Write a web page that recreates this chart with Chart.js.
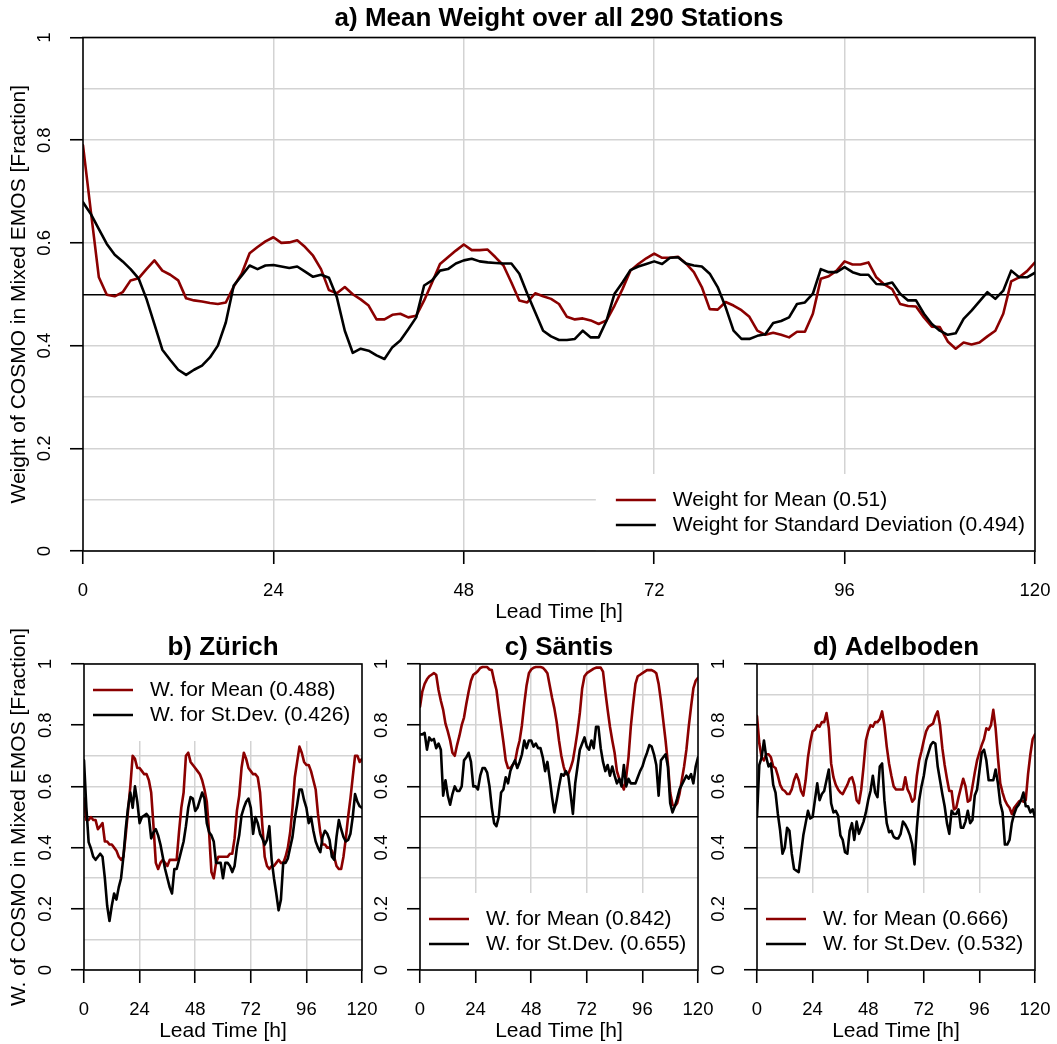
<!DOCTYPE html>
<html>
<head>
<meta charset="utf-8">
<title>Weight of COSMO in Mixed EMOS</title>
<script src="https://cdn.jsdelivr.net/npm/chart.js@4.4.1/dist/chart.umd.min.js"></script>
<style>
  html, body { margin: 0; padding: 0; background: #fff; overflow: hidden; }
  #page { position: relative; width: 1057px; height: 1044px; overflow: hidden; }
  #page canvas { position: absolute; }
</style>
</head>
<body>
<div id="page">
  <canvas id="chartA" width="1080" height="625" style="left:0;top:0"></canvas>
  <canvas id="chartB" width="400" height="444" style="left:0;top:600px"></canvas>
  <canvas id="chartC" width="400" height="444" style="left:340px;top:600px"></canvas>
  <canvas id="chartD" width="400" height="444" style="left:677px;top:600px"></canvas>
</div>
<script>
const FONT = '"Liberation Sans", Arial, Helvetica, sans-serif';
const RED = '#8b0000';
const GRID = '#d3d3d3';

// lead time in hours (x categories)
const leadTime = [
  0, 1, 2, 3, 4, 5, 6, 7, 8, 9, 10, 11, 12, 13, 14, 15, 16, 17, 18, 19,
  20, 21, 22, 23, 24, 25, 26, 27, 28, 29, 30, 31, 32, 33, 34, 35, 36, 37, 38, 39,
  40, 41, 42, 43, 44, 45, 46, 47, 48, 49, 50, 51, 52, 53, 54, 55, 56, 57, 58, 59,
  60, 61, 62, 63, 64, 65, 66, 67, 68, 69, 70, 71, 72, 73, 74, 75, 76, 77, 78, 79,
  80, 81, 82, 83, 84, 85, 86, 87, 88, 89, 90, 91, 92, 93, 94, 95, 96, 97, 98, 99,
  100, 101, 102, 103, 104, 105, 106, 107, 108, 109, 110, 111, 112, 113, 114, 115, 116, 117, 118, 119,
  120
];
const xTicks = [0, 24, 48, 72, 96, 120];
const yGrid = [0, 0.1, 0.2, 0.3, 0.4, 0.5, 0.6, 0.7, 0.8, 0.9, 1];
const yLabelled = [0, 0.2, 0.4, 0.6, 0.8, 1];
const yTickText = ['0', '0.2', '0.4', '0.6', '0.8', '1'];

// a) mean over all 290 stations
const meanAll = [
  0.79, 0.66, 0.533, 0.499, 0.496, 0.504, 0.527, 0.531, 0.549, 0.566,
  0.546, 0.538, 0.527, 0.492, 0.488, 0.486, 0.483, 0.481, 0.484, 0.515,
  0.54, 0.58, 0.592, 0.603, 0.611, 0.60, 0.601, 0.605, 0.592, 0.575,
  0.549, 0.508, 0.502, 0.514, 0.50, 0.49, 0.478, 0.451, 0.451, 0.46,
  0.462, 0.455, 0.458, 0.488, 0.523, 0.559, 0.572, 0.585, 0.597, 0.586,
  0.586, 0.587, 0.572, 0.556, 0.523, 0.488, 0.484, 0.502, 0.496, 0.491,
  0.481, 0.456, 0.451, 0.453, 0.449, 0.442, 0.449, 0.478, 0.51, 0.546,
  0.559, 0.570, 0.579, 0.571, 0.571, 0.573, 0.56, 0.543, 0.514, 0.471,
  0.47, 0.485, 0.478, 0.469, 0.456, 0.429, 0.421, 0.425, 0.421, 0.416,
  0.427, 0.427, 0.462, 0.53, 0.535, 0.546, 0.564, 0.558, 0.558, 0.562,
  0.533, 0.519, 0.51, 0.481, 0.477, 0.476, 0.455, 0.437, 0.436, 0.408,
  0.394, 0.406, 0.402, 0.406, 0.418, 0.429, 0.462, 0.525, 0.533, 0.545,
  0.562
];
const sdAll = [
  0.679, 0.656, 0.627, 0.598, 0.577, 0.564, 0.549, 0.531, 0.491, 0.442,
  0.392, 0.372, 0.353, 0.343, 0.353, 0.361, 0.377, 0.40, 0.445, 0.517,
  0.536, 0.556, 0.549, 0.556, 0.557, 0.554, 0.551, 0.554, 0.544, 0.534,
  0.538, 0.532, 0.494, 0.429, 0.386, 0.394, 0.39, 0.381, 0.374, 0.397,
  0.41, 0.432, 0.455, 0.517, 0.527, 0.546, 0.549, 0.56, 0.566, 0.569,
  0.564, 0.562, 0.561, 0.56, 0.56, 0.54, 0.501, 0.465, 0.429, 0.418,
  0.411, 0.411, 0.413, 0.429, 0.416, 0.416, 0.449, 0.501, 0.523, 0.547,
  0.554, 0.559, 0.564, 0.559, 0.571, 0.572, 0.56, 0.556, 0.554, 0.54,
  0.514, 0.475, 0.429, 0.413, 0.413, 0.419, 0.422, 0.444, 0.448, 0.455,
  0.481, 0.484, 0.501, 0.549, 0.543, 0.543, 0.553, 0.543, 0.538, 0.538,
  0.52, 0.519, 0.523, 0.501, 0.488, 0.488, 0.462, 0.442, 0.429, 0.421,
  0.424, 0.452, 0.468, 0.486, 0.504, 0.491, 0.507, 0.546, 0.533, 0.533,
  0.542
];

// b) Zürich
const meanZurich = [
  0.56, 0.49, 0.49, 0.50, 0.49, 0.49, 0.46, 0.47, 0.48, 0.42,
  0.42, 0.41, 0.41, 0.40, 0.39, 0.37, 0.36, 0.37, 0.44, 0.52,
  0.60, 0.70, 0.69, 0.66, 0.66, 0.65, 0.64, 0.64, 0.62, 0.58,
  0.47, 0.35, 0.33, 0.35, 0.36, 0.35, 0.34, 0.36, 0.36, 0.36,
  0.36, 0.45, 0.53, 0.58, 0.70, 0.71, 0.68, 0.67, 0.66, 0.65,
  0.64, 0.62, 0.59, 0.55, 0.45, 0.32, 0.30, 0.35, 0.37, 0.37,
  0.37, 0.37, 0.37, 0.38, 0.38, 0.43, 0.52, 0.57, 0.66, 0.71,
  0.69, 0.66, 0.65, 0.64, 0.64, 0.63, 0.58, 0.47, 0.37, 0.34,
  0.33, 0.34, 0.34, 0.35, 0.36, 0.35, 0.35, 0.37, 0.40, 0.45,
  0.53, 0.63, 0.68, 0.73, 0.71, 0.68, 0.67, 0.67, 0.65, 0.62,
  0.59, 0.51, 0.45, 0.41, 0.41, 0.40, 0.40, 0.39, 0.37, 0.34,
  0.33, 0.33, 0.37, 0.43, 0.50, 0.56, 0.63, 0.70, 0.70, 0.68,
  0.69
];
const sdZurich = [
  0.685, 0.533, 0.418, 0.397, 0.37, 0.36, 0.37, 0.38, 0.37, 0.30,
  0.21, 0.16, 0.21, 0.25, 0.23, 0.27, 0.30, 0.37, 0.46, 0.53,
  0.58, 0.53, 0.60, 0.55, 0.48, 0.50, 0.505, 0.51, 0.50, 0.43,
  0.45, 0.46, 0.44, 0.41, 0.37, 0.33, 0.30, 0.27, 0.25, 0.33,
  0.33, 0.36, 0.39, 0.42, 0.47, 0.53, 0.565, 0.56, 0.52, 0.53,
  0.555, 0.58, 0.56, 0.48, 0.45, 0.44, 0.42, 0.35, 0.35, 0.35,
  0.30, 0.35, 0.35, 0.34, 0.32, 0.34, 0.40, 0.44, 0.505, 0.53,
  0.55, 0.56, 0.53, 0.445, 0.50, 0.48, 0.445, 0.43, 0.41, 0.425,
  0.47, 0.36, 0.30, 0.25, 0.195, 0.23, 0.35, 0.35, 0.365, 0.40,
  0.435, 0.495, 0.54, 0.59, 0.59, 0.555, 0.53, 0.48, 0.50, 0.455,
  0.42, 0.40, 0.385, 0.435, 0.455, 0.445, 0.425, 0.37, 0.36, 0.435,
  0.49, 0.46, 0.435, 0.42, 0.425, 0.445, 0.50, 0.575, 0.55, 0.535,
  0.53
];

// c) Säntis
const meanSantis = [
  0.86, 0.91, 0.935, 0.95, 0.96, 0.965, 0.97, 0.965, 0.915, 0.88,
  0.85, 0.805, 0.78, 0.75, 0.71, 0.70, 0.735, 0.765, 0.80, 0.825,
  0.87, 0.91, 0.945, 0.965, 0.97, 0.977, 0.987, 0.99, 0.99, 0.99,
  0.982, 0.98, 0.945, 0.915, 0.855, 0.80, 0.745, 0.685, 0.66, 0.66,
  0.67, 0.68, 0.72, 0.75, 0.80, 0.87, 0.93, 0.97, 0.982, 0.988,
  0.99, 0.99, 0.99, 0.988, 0.98, 0.97, 0.93, 0.89, 0.855, 0.81,
  0.75, 0.70, 0.665, 0.64, 0.64, 0.66, 0.685, 0.73, 0.78, 0.84,
  0.92, 0.96, 0.97, 0.975, 0.98, 0.985, 0.988, 0.988, 0.988, 0.975,
  0.91, 0.85, 0.795, 0.75, 0.71, 0.65, 0.625, 0.61, 0.59, 0.63,
  0.695, 0.795, 0.87, 0.935, 0.96, 0.965, 0.97, 0.975, 0.98, 0.98,
  0.98, 0.976, 0.97, 0.935, 0.88, 0.815, 0.75, 0.675, 0.58, 0.54,
  0.535, 0.545, 0.575, 0.62, 0.665, 0.72, 0.795, 0.86, 0.92, 0.945,
  0.955
];
const sdSantis = [
  0.77, 0.77, 0.775, 0.72, 0.76, 0.75, 0.755, 0.725, 0.74, 0.72,
  0.57, 0.62, 0.57, 0.54, 0.575, 0.60, 0.585, 0.585, 0.60, 0.685,
  0.695, 0.71, 0.68, 0.60, 0.60, 0.59, 0.635, 0.66, 0.66, 0.645,
  0.60, 0.53, 0.48, 0.47, 0.50, 0.58, 0.59, 0.63, 0.61, 0.65,
  0.67, 0.685, 0.66, 0.68, 0.705, 0.75, 0.725, 0.75, 0.75, 0.73,
  0.74, 0.725, 0.725, 0.695, 0.65, 0.68, 0.625, 0.565, 0.515, 0.555,
  0.60, 0.64, 0.635, 0.65, 0.635, 0.575, 0.51, 0.61, 0.665, 0.72,
  0.74, 0.76, 0.73, 0.72, 0.75, 0.725, 0.795, 0.795, 0.725, 0.68,
  0.65, 0.67, 0.635, 0.665, 0.635, 0.61, 0.625, 0.60, 0.67, 0.60,
  0.625, 0.61, 0.61, 0.61, 0.63, 0.65, 0.665, 0.69, 0.71, 0.735,
  0.73, 0.705, 0.67, 0.57, 0.685, 0.695, 0.705, 0.665, 0.545, 0.515,
  0.535, 0.56, 0.59, 0.605, 0.62, 0.635, 0.625, 0.64, 0.61, 0.665,
  0.695
];

// d) Adelboden
const meanAdelboden = [
  0.83, 0.74, 0.695, 0.685, 0.705, 0.705, 0.695, 0.665, 0.66, 0.635,
  0.605, 0.59, 0.585, 0.575, 0.575, 0.59, 0.62, 0.64, 0.62, 0.585,
  0.57, 0.62, 0.695, 0.745, 0.78, 0.785, 0.80, 0.795, 0.81, 0.81,
  0.84, 0.79, 0.675, 0.63, 0.605, 0.59, 0.58, 0.575, 0.59, 0.605,
  0.625, 0.63, 0.605, 0.555, 0.545, 0.59, 0.665, 0.75, 0.78, 0.80,
  0.795, 0.81, 0.81, 0.82, 0.845, 0.80, 0.73, 0.675, 0.635, 0.60,
  0.59, 0.59, 0.59, 0.59, 0.63, 0.59, 0.575, 0.55, 0.56, 0.635,
  0.685, 0.715, 0.75, 0.78, 0.795, 0.80, 0.805, 0.83, 0.845, 0.80,
  0.725, 0.67, 0.625, 0.585, 0.585, 0.525, 0.53, 0.565, 0.595, 0.625,
  0.60, 0.55, 0.555, 0.60, 0.645, 0.685, 0.71, 0.735, 0.755, 0.79,
  0.785, 0.80, 0.85, 0.79, 0.695, 0.61, 0.58, 0.555, 0.54, 0.53,
  0.51, 0.53, 0.54, 0.55, 0.555, 0.55, 0.555, 0.64, 0.705, 0.755,
  0.77
];
const sdAdelboden = [
  0.50, 0.67, 0.695, 0.75, 0.695, 0.665, 0.675, 0.605, 0.58, 0.51,
  0.455, 0.38, 0.40, 0.465, 0.455, 0.38, 0.33, 0.325, 0.32, 0.38,
  0.44, 0.48, 0.52, 0.495, 0.50, 0.555, 0.61, 0.555, 0.575, 0.585,
  0.62, 0.655, 0.545, 0.515, 0.52, 0.505, 0.44, 0.425, 0.385, 0.38,
  0.455, 0.48, 0.425, 0.485, 0.445, 0.465, 0.485, 0.515, 0.555, 0.585,
  0.635, 0.58, 0.565, 0.665, 0.675, 0.555, 0.48, 0.45, 0.455, 0.435,
  0.43, 0.43, 0.445, 0.485, 0.475, 0.46, 0.44, 0.41, 0.345, 0.465,
  0.555, 0.60, 0.635, 0.685, 0.71, 0.735, 0.745, 0.74, 0.665, 0.62,
  0.575, 0.535, 0.48, 0.445, 0.52, 0.51, 0.51, 0.525, 0.465, 0.465,
  0.485, 0.52, 0.48, 0.49, 0.57, 0.59, 0.65, 0.71, 0.72, 0.685,
  0.62, 0.62, 0.62, 0.655, 0.61, 0.545, 0.515, 0.41, 0.41, 0.425,
  0.48, 0.51, 0.53, 0.54, 0.555, 0.58, 0.535, 0.535, 0.515, 0.525,
  0.50
];

Chart.defaults.font.family = FONT;
Chart.defaults.color = '#000';

// Titles, rotated y tick labels, legend box and frame (R style)
const panelDecor = {
  id: 'panelDecor',
  afterDatasetsDraw(chart, args, opts) {
    const { ctx, chartArea: area } = chart;
    const sets = chart.data.datasets;
    ctx.save();
    ctx.font = `21px ${FONT}`;
    const textW = Math.max(...sets.map(d => ctx.measureText(d.label).width));
    let textX, boxLeft, boxTop, rowY;
    if (opts.legend === 'bottomright') {
      textX = area.right - 10 - textW;
      boxLeft = textX - 77;
      boxTop = area.bottom - 77;
      rowY = [area.bottom - 51, area.bottom - 26];
    } else if (opts.legend === 'topleft') {
      textX = area.left + 66;
      boxLeft = area.left;
      boxTop = area.top;
      rowY = [area.top + 26, area.top + 51];
    } else {
      textX = area.left + 66;
      boxLeft = area.left;
      boxTop = area.bottom - 77;
      rowY = [area.bottom - 51, area.bottom - 26];
    }
    ctx.fillStyle = '#fff';
    ctx.fillRect(boxLeft, boxTop, area.right - boxLeft, 77);
    sets.forEach((d, i) => {
      ctx.strokeStyle = d.borderColor;
      ctx.lineWidth = d.borderWidth;
      ctx.beginPath();
      ctx.moveTo(textX - 57, rowY[i]);
      ctx.lineTo(textX - 17, rowY[i]);
      ctx.stroke();
      ctx.fillStyle = '#000';
      ctx.textAlign = 'left';
      ctx.textBaseline = 'middle';
      ctx.fillText(d.label, textX, rowY[i]);
    });
    ctx.restore();
  },
  afterDraw(chart, args, opts) {
    const { ctx, chartArea: area } = chart;
    const y = chart.scales.y;
    ctx.save();
    // box around the plot
    ctx.strokeStyle = '#000';
    ctx.lineWidth = 1.6;
    ctx.strokeRect(area.left, area.top, area.right - area.left, area.bottom - area.top);
    // y tick labels, parallel to the axis
    ctx.fillStyle = '#000';
    ctx.font = `18.5px ${FONT}`;
    ctx.textAlign = 'center';
    ctx.textBaseline = 'middle';
    yLabelled.forEach((v, i) => {
      ctx.save();
      ctx.translate(area.left - 38, y.getPixelForValue(v));
      ctx.rotate(-Math.PI / 2);
      ctx.fillText(yTickText[i], 0, 0);
      ctx.restore();
    });
    // panel title
    ctx.font = `bold 26px ${FONT}`;
    ctx.fillText(opts.title, (area.left + area.right) / 2, area.top - opts.titleGap);
    ctx.restore();
  }
};

function makePanel(id, cfg) {
  return new Chart(document.getElementById(id), {
    type: 'line',
    data: {
      labels: leadTime,
      datasets: [
        { label: cfg.meanLabel, data: cfg.mean, borderColor: RED, borderWidth: 2.6, order: 1 },
        { label: cfg.sdLabel, data: cfg.sd, borderColor: '#000', borderWidth: 2.6, order: 0 }
      ]
    },
    options: {
      responsive: false,
      animation: false,
      devicePixelRatio: 1,
      events: [],
      layout: { padding: cfg.padding },
      elements: {
        point: { radius: 0 },
        line: { tension: 0, borderJoinStyle: 'round', borderCapStyle: 'round' }
      },
      plugins: {
        legend: { display: false },
        tooltip: { enabled: false },
        title: { display: false },
        panelDecor: { title: cfg.title, titleGap: cfg.titleGap, legend: cfg.legendPos }
      },
      scales: {
        x: {
          type: 'linear',
          min: 0,
          max: 120,
          afterBuildTicks: s => { s.ticks = xTicks.map(v => ({ value: v })); },
          afterFit: s => { s.height = 74; },
          border: { display: false },
          grid: {
            color: c => (c.tick && (c.tick.value === 0 || c.tick.value === 120)) ? 'rgba(0,0,0,0)' : GRID,
            lineWidth: 1.5,
            tickColor: '#000',
            tickWidth: 1.6,
            tickLength: 13
          },
          ticks: { color: '#000', font: { size: 18.5 }, padding: 16, maxRotation: 0, autoSkip: false },
          title: { display: true, text: 'Lead Time [h]', color: '#000', font: { size: 21 }, padding: 0 }
        },
        y: {
          min: 0,
          max: 1,
          afterBuildTicks: s => { s.ticks = yGrid.map(v => ({ value: v })); },
          afterFit: s => { s.width = cfg.yWidth; },
          border: { display: false },
          grid: {
            color: c => (c.tick && c.tick.value === 0.5) ? '#000' : GRID,
            lineWidth: 1.5,
            tickColor: c => (c.tick && yLabelled.includes(c.tick.value)) ? '#000' : 'rgba(0,0,0,0)',
            tickWidth: 1.6,
            tickLength: 13
          },
          ticks: { display: false },
          title: {
            display: !!cfg.yTitle,
            text: cfg.yTitle || '',
            color: '#000',
            font: { size: 21 },
            padding: { top: 7, bottom: 0 }
          }
        }
      }
    },
    plugins: [panelDecor]
  });
}

makePanel('chartA', {
  title: 'a) Mean Weight over all 290 Stations',
  titleGap: 19,
  yTitle: 'Weight of COSMO in Mixed EMOS [Fraction]',
  yWidth: 83,
  padding: { left: 0, right: 45, top: 37.5, bottom: 0 },
  legendPos: 'bottomright',
  mean: meanAll, sd: sdAll,
  meanLabel: 'Weight for Mean (0.51)',
  sdLabel: 'Weight for Standard Deviation (0.494)'
});

makePanel('chartB', {
  title: 'b) Zürich',
  titleGap: 16,
  yTitle: 'W. of COSMO in Mixed EMOS [Fraction]',
  yWidth: 84,
  padding: { left: 0, right: 38, top: 64, bottom: 0 },
  legendPos: 'topleft',
  mean: meanZurich, sd: sdZurich,
  meanLabel: 'W. for Mean (0.488)',
  sdLabel: 'W. for St.Dev. (0.426)'
});

makePanel('chartC', {
  title: 'c) Säntis',
  titleGap: 16,
  yWidth: 80,
  padding: { left: 0, right: 42, top: 64, bottom: 0 },
  legendPos: 'bottomleft',
  mean: meanSantis, sd: sdSantis,
  meanLabel: 'W. for Mean (0.842)',
  sdLabel: 'W. for St.Dev. (0.655)'
});

makePanel('chartD', {
  title: 'd) Adelboden',
  titleGap: 16,
  yWidth: 80,
  padding: { left: 0, right: 42, top: 64, bottom: 0 },
  legendPos: 'bottomleft',
  mean: meanAdelboden, sd: sdAdelboden,
  meanLabel: 'W. for Mean (0.666)',
  sdLabel: 'W. for St.Dev. (0.532)'
});
</script>
</body>
</html>
